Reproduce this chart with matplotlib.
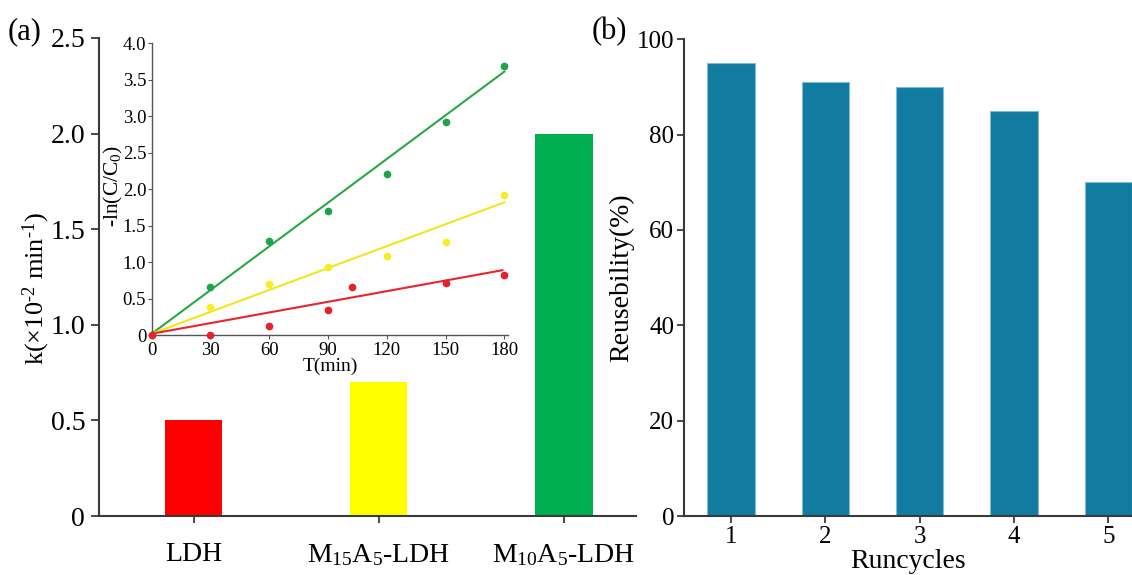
import matplotlib
matplotlib.use('Agg')
import matplotlib.pyplot as plt
import numpy as np

plt.rcParams['font.family'] = ['Liberation Serif', 'DejaVu Serif']
plt.rcParams['mathtext.fontset'] = 'custom'
plt.rcParams['mathtext.rm'] = 'Liberation Serif'
plt.rcParams['mathtext.it'] = 'Liberation Serif:italic'
plt.rcParams['mathtext.default'] = 'regular'

# rate constants (x10^-2 min^-1)
samples = ['LDH', 'M$_{15}$A$_5$-LDH', 'M$_{10}$A$_5$-LDH']
k_values = [0.5, 0.7, 2.0]
bar_colors = ['#ff0000', '#ffff00', '#00b050']

# kinetics inset: -ln(C/C0) vs time
t_min = [0, 30, 60, 90, 120, 150, 180]
lnc_m10 = [0, 0.66, 1.29, 1.70, 2.21, 2.92, 3.69]
lnc_m15 = [0, 0.39, 0.70, 0.93, 1.09, 1.27, 1.92]
t_ldh = [0, 30, 60, 90, 102, 150, 180]
lnc_ldh = [0, 0.0, 0.12, 0.34, 0.66, 0.71, 0.83]
fit_t = [0, 180]
fit_t_ldh = [0, 179]
fit_m10 = [0.02, 3.61]
fit_m15 = [0.02, 1.82]
fit_ldh = [0.02, 0.89]

# reuse test
cycles = [1, 2, 3, 4, 5]
reuse = [95, 91, 90, 85, 70]

fig = plt.figure(figsize=(11.32, 5.75), dpi=100)
spine_c = '#3a3a3a'

# ---- (a) rate constants ----
ax = fig.add_axes([0.0875, 0.1026, 0.4745, 0.8314])
x = np.arange(len(samples))
ax.bar(x, k_values, width=0.31, color=bar_colors)
ax.set_xlim(-0.51, 2.39)
ax.set_ylim(0, 2.5)
ax.set_yticks([0, 0.5, 1.0, 1.5, 2.0, 2.5])
ax.set_yticklabels(['0', '0.5', '1.0', '1.5', '2.0', '2.5'])
ax.set_xticks(x)
ax.set_xticklabels(samples)
for s in ['top', 'right']:
    ax.spines[s].set_visible(False)
for s in ['left', 'bottom']:
    ax.spines[s].set_color(spine_c)
    ax.spines[s].set_linewidth(1.5)
ax.tick_params(axis='y', direction='out', length=6, width=1.3, color=spine_c, labelsize=20, pad=4)
ax.tick_params(axis='x', direction='out', length=5, width=1.3, color=spine_c, labelsize=20, pad=14)
ax.set_ylabel('k(×10$^{\u20102}$ min$^{\u20101}$)', fontsize=19)
ax.yaxis.set_label_coords(-0.088, 0.475)
fig.text(0.007, 0.945, '(a)', fontsize=22, ha='left', va='center')

# ---- inset kinetics ----
ins = fig.add_axes([0.134, 0.417, 0.315, 0.508])
ins.patch.set_alpha(0)
ins.plot(fit_t, fit_m10, color='#2aa844', lw=1.5)
ins.plot(fit_t, fit_m15, color='#f2e61c', lw=1.5)
ins.plot(fit_t_ldh, fit_ldh, color='#e8252a', lw=1.5)
ins.plot(t_min, lnc_m10, 'o', color='#1ea34a', ms=4.5, clip_on=False)
ins.plot(t_min, lnc_m15, 'o', color='#f5ef22', ms=4.5, clip_on=False)
ins.plot(t_ldh, lnc_ldh, 'o', color='#e8202a', ms=4.5, clip_on=False, zorder=5)
ins.set_xlim(0, 182)
ins.set_ylim(0, 4.0)
ins.set_xticks([0, 30, 60, 90, 120, 150, 180])
ins.set_yticks([0, 0.5, 1.0, 1.5, 2.0, 2.5, 3.0, 3.5, 4.0])
ins.set_yticklabels(['0', '0.5', '1.0', '1.5', '2.0', '2.5', '3.0', '3.5', '4.0'])
for s in ['top', 'right']:
    ins.spines[s].set_visible(False)
for s in ['left', 'bottom']:
    ins.spines[s].set_color('#555555')
    ins.spines[s].set_linewidth(1.0)
ins.tick_params(axis='both', direction='out', length=3, width=0.8, color='#555555', labelsize=13.5, pad=1)
ins.tick_params(axis='x', pad=2)
ins.set_xlabel('T(min)', fontsize=14, labelpad=-1)
ins.set_ylabel('-ln(C/C$_0$)', fontsize=15.5, labelpad=0)
ins.yaxis.set_label_coords(-0.075, 0.51)

# ---- (b) reusability ----
bx = fig.add_axes([0.604, 0.1026, 0.396, 0.829])
bx.bar(cycles, reuse, width=0.5, color='#127ca0', edgecolor='#7fbcd2', linewidth=0.8)
bx.set_xlim(0.5, 5.25)
bx.set_ylim(0, 100)
bx.set_yticks([0, 20, 40, 60, 80, 100])
bx.set_xticks(cycles)
for s in ['top', 'right']:
    bx.spines[s].set_visible(False)
for s in ['left', 'bottom']:
    bx.spines[s].set_color(spine_c)
    bx.spines[s].set_linewidth(1.5)
bx.tick_params(axis='both', direction='out', length=5, width=1.3, color=spine_c, labelsize=18, pad=2)
bx.set_xlabel('Runcycles', fontsize=20, labelpad=1)
bx.set_ylabel('Reusebility(%)', fontsize=20, labelpad=2)
fig.text(0.523, 0.945, '(b)', fontsize=22, ha='left', va='center')

fig.savefig('out.png', dpi=100)
